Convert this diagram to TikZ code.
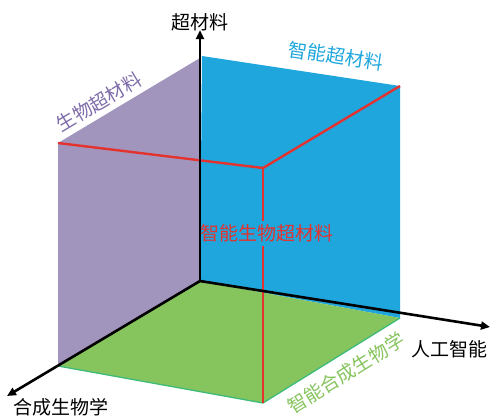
\documentclass[tikz,border=0pt]{standalone}
\usepackage{fontspec}
\newfontfamily\cjk{Noto Sans CJK SC}
\usetikzlibrary{arrows.meta}
\definecolor{purp}{HTML}{A295BD}
\definecolor{purptext}{HTML}{7E6CAA}
\definecolor{bluef}{HTML}{1EA6DD}
\definecolor{greenf}{HTML}{86C45E}
\definecolor{greenedge}{HTML}{3DBB7A}
\definecolor{redl}{HTML}{E4322F}
\tikzset{
  axisline/.style={line width=2.6pt, black, -{Triangle[length=9pt,width=8pt]}},
  redline/.style={line width=2.4pt, redl},
  lab/.style={inner sep=0pt, font=\cjk\fontsize{19}{19}\selectfont},
}
\begin{document}
\begin{tikzpicture}[x=1pt,y=-1pt]
\useasboundingbox (0,0) rectangle (490,418);
\coordinate (O) at (200,281);
\coordinate (P1) at (200,58);
\coordinate (P2) at (58,143);
\coordinate (P3) at (58,366);
\coordinate (B1) at (202,56);
\coordinate (B2) at (400,86);
\coordinate (B3) at (400,318);
\coordinate (G3) at (263,403);
\coordinate (R) at (263,168);
\coordinate (Ytip) at (200,30);
\coordinate (Xtip) at (490,327);
\coordinate (Ztip) at (7,396);
\fill[purp] (O) -- (P1) -- (P2) -- (P3) -- cycle;
\fill[bluef] (O) -- (B1) -- (B2) -- (B3) -- cycle;
\fill[greenf] (O) -- (B3) -- (G3) -- (P3) -- cycle;
\draw[greenedge, line width=1.3pt, line join=round] (P3) -- (G3) -- (B3);
\node[lab, text=redl] (mid) at (267,233) {智能生物超材料};
\draw[redline, line join=round] (P2) -- (R) -- (B2);
\draw[redline] (R) -- ([yshift=3pt]R |- mid.north);
\draw[redline] ([yshift=-4pt]mid.south -| R) -- (G3);
\draw[axisline] (O) -- (Ytip);
\draw[axisline] (O) -- (Xtip);
\draw[axisline] (O) -- (Ztip);
\node[lab, anchor=south] (ylab) at ([yshift=-1pt]Ytip) {超材料};
\node[lab] (xlab) at (449,349) {人工智能};
\node[lab] (zlab) at (61,407) {合成生物学};
\node[lab, text=purptext, rotate=31] (plab) at (99,102) {生物超材料};
\node[lab, text=bluef, rotate=-8.5] (blab) at (336,56) {智能超材料};
\node[lab, text=greenf, rotate=32] (glab) at (346,373) {智能合成生物学};
\end{tikzpicture}
\end{document}
